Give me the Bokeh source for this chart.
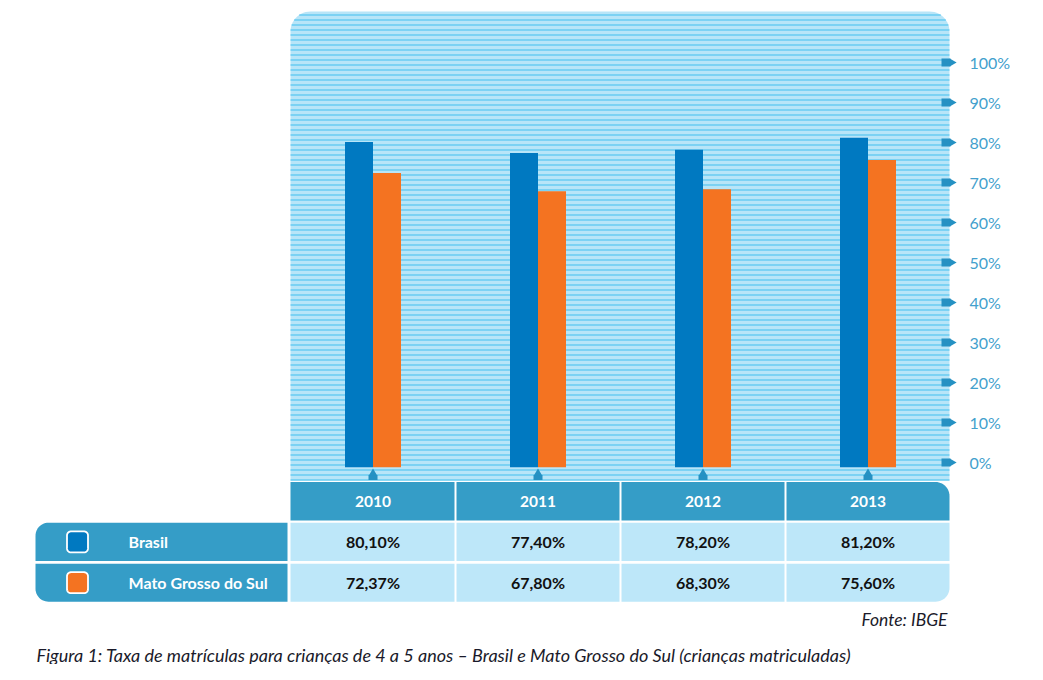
import numpy as np
from bokeh.plotting import figure
from bokeh.models import Range1d, ColumnDataSource
from bokeh.transform import dodge
from bokeh.core.properties import value
from bokeh.embed import file_html
from bokeh.resources import INLINE

# ---------------- data ----------------
years = [2010, 2011, 2012, 2013]
brasil = [80.10, 77.40, 78.20, 81.20]
ms = [72.37, 67.80, 68.30, 75.60]
series_names = ["Brasil", "Mato Grosso do Sul"]
tick_values = [0, 10, 20, 30, 40, 50, 60, 70, 80, 90, 100]
tick_labels = ["0%", "10%", "20%", "30%", "40%", "50%", "60%", "70%", "80%", "90%", "100%"]
source_text = "Fonte: IBGE"
caption = ("Figura 1: Taxa de matrículas para crianças de 4 a 5 anos – "
           "Brasil e Mato Grosso do Sul (crianças matriculadas)")

# ---------------- styles ----------------
BLUE = "#0079c1"
ORANGE = "#f47321"
HEAD = "#359dc7"
CELL = "#bde7f9"
PANEL = "#b8e5f8"
HATCH = "#40bfef"
TICKC = "#2591c3"
LABC = "#42a0cd"
FONT = "Lato"

W, H = 1027, 664
# pixel frame in image coordinates
PX0, PY0 = 1, 1
PX1, PY1 = PX0 + W, PY0 + H
# value scale: 0% at image y=463, 4 px per percent
Y0_IMG, PX_PER_PCT = 463.0, 4.0
y_lo = (Y0_IMG - PY1) / PX_PER_PCT
y_hi = (Y0_IMG - PY0) / PX_PER_PCT
# year scale: 2010 centre at image x=373.5, 165px per year
X_FIRST, PX_PER_YEAR = 373.5, 165.0
x_lo = years[0] - (X_FIRST - PX0) / PX_PER_YEAR
x_hi = years[0] + (PX1 - X_FIRST) / PX_PER_YEAR

p = figure(width=W, height=H, output_backend="svg", toolbar_location=None,
           x_range=Range1d(x_lo, x_hi), y_range=Range1d(y_lo, y_hi),
           x_axis_location=None, y_axis_location=None,
           min_border=0, min_border_left=0, min_border_right=0,
           min_border_top=0, min_border_bottom=0,
           outline_line_color=None, background_fill_color="white",
           border_fill_color="white")
p.xgrid.visible = False
p.ygrid.visible = False
p.extra_x_ranges = {"px": Range1d(PX0, PX1)}
p.extra_y_ranges = {"py": Range1d(PY1, PY0)}


def rrect(x0, x1, y0, y1, r=(0, 0, 0, 0), n=14):
    tl, tr, br, bl = r
    xs, ys = [], []
    corners = [(x0 + tl, y0 + tl, tl, 180), (x1 - tr, y0 + tr, tr, 270),
               (x1 - br, y1 - br, br, 0), (x0 + bl, y1 - bl, bl, 90)]
    for cx, cy, rr, a0 in corners:
        a = np.radians(np.linspace(a0, a0 + 90, n))
        xs += list(cx + rr * np.cos(a))
        ys += list(cy + rr * np.sin(a))
    return xs, ys


def shapes(lst, fill, line=None, lw=0):
    xs = [s[0] for s in lst]
    ys = [s[1] for s in lst]
    p.patches(xs, ys, fill_color=fill, line_color=line, line_width=lw,
              x_range_name="px", y_range_name="py")


# ---- hatched panel ----
PL, PR, PT, PB, PRAD = 291, 950, 12, 481, 20
shapes([rrect(PL, PR, PT, PB, (PRAD, PRAD, 0, 0))], PANEL)
hy = np.arange(15.5, PB, 5.0)
ins = np.where(hy < PT + PRAD,
               PRAD - np.sqrt(np.clip(PRAD ** 2 - (PT + PRAD - hy) ** 2, 0, None)), 0)
p.segment(x0=PL + ins, x1=PR - ins, y0=hy, y1=hy, line_color=HATCH, line_width=1,
          x_range_name="px", y_range_name="py")

# ---- bars ----
src = ColumnDataSource(dict(year=years, brasil=brasil, ms=ms))
bw = 28 / PX_PER_YEAR
p.vbar(x=dodge("year", -bw / 2, range=p.x_range), top="brasil", bottom=-1.2, width=bw,
       source=src, fill_color=BLUE, line_color=None)
p.vbar(x=dodge("year", bw / 2, range=p.x_range), top="ms", bottom=-1.2, width=bw,
       source=src, fill_color=ORANGE, line_color=None)

# ---- right tick arrows and labels ----
p.rect(x=[946.5] * len(tick_values), y=tick_values, width=9, height=8,
       width_units="screen", height_units="screen",
       fill_color=TICKC, line_color=None, x_range_name="px")
p.scatter(x=[952.5] * len(tick_values), y=tick_values, marker="triangle", size=8,
          angle=-np.pi / 2, fill_color=TICKC, line_color=None, x_range_name="px")
p.text(x=[970] * len(tick_values), y=tick_values, text=tick_labels,
       text_font=value(FONT), text_font_size="16px", text_color=LABC,
       text_align="left", text_baseline="middle", x_range_name="px")

# ---- bottom arrows under groups ----
p.rect(x=years, y=[478] * 4, width=9, height=5, width_units="screen",
       height_units="screen", fill_color=TICKC, line_color=None, y_range_name="py")
p.scatter(x=years, y=[473.5] * 4, marker="triangle", size=8,
          fill_color=TICKC, line_color=None, y_range_name="py")

# ---- table ----
cols = [(291 + 165 * i + (1 if i else 0), 291 + 165 * (i + 1) - 1) for i in range(4)]
HT, HB = 482.5, 521
R1T, R1B = 523.2, 561.6
R2T, R2B = 564.2, 602.2
heads = []
row1 = []
row2 = []
for i, (a, b) in enumerate(cols):
    last = i == len(cols) - 1
    heads.append(rrect(a, b, HT, HB, (0, 14 if last else 0, 0, 0)))
    row1.append(rrect(a, b, R1T, R1B))
    row2.append(rrect(a, b, R2T, R2B, (0, 0, 14 if last else 0, 0)))
shapes(heads, HEAD)
shapes(row1 + row2, CELL)

# legend rows
shapes([rrect(36, 288, R1T, R1B, (13, 0, 0, 0)), rrect(36, 288, R2T, R2B, (0, 0, 0, 13))], HEAD)
# legend squares
r1c = (R1T + R1B) / 2
r2c = (R2T + R2B) / 2
sq1 = rrect(67.5, 88.5, r1c - 10.5, r1c + 10.5, (4, 4, 4, 4))
sq2 = rrect(67.5, 88.5, r2c - 10.5, r2c + 10.5, (4, 4, 4, 4))
p.patches([sq1[0]], [sq1[1]], fill_color=BLUE, line_color="white", line_width=1.8,
          x_range_name="px", y_range_name="py")
p.patches([sq2[0]], [sq2[1]], fill_color=ORANGE, line_color="white", line_width=1.8,
          x_range_name="px", y_range_name="py")
p.text(x=[129, 129], y=[r1c, r2c], text=series_names, text_font=value(FONT),
       text_font_style="bold", text_font_size="16px", text_color="white",
       text_align="left", text_baseline="middle", x_range_name="px", y_range_name="py")

# header years and values (x via year scale)
fmt = lambda v: f"{v:.2f}".replace(".", ",") + "%"
p.text(x=years, y=[(HT + HB) / 2] * 4, text=[str(y) for y in years], text_font=value(FONT),
       text_font_style="bold", text_font_size="15.5px", text_color="white",
       text_align="center", text_baseline="middle", y_range_name="py")
p.text(x=years, y=[r1c] * 4, text=[fmt(v) for v in brasil], text_font=value(FONT),
       text_font_style="bold", text_font_size="16px", text_color="#111111",
       text_align="center", text_baseline="middle", y_range_name="py")
p.text(x=years, y=[r2c] * 4, text=[fmt(v) for v in ms], text_font=value(FONT),
       text_font_style="bold", text_font_size="16px", text_color="#111111",
       text_align="center", text_baseline="middle", y_range_name="py")

# ---- source and caption ----
p.text(x=[948], y=[620], text=[source_text], text_font=value(FONT),
       text_font_style="italic", text_font_size="17.5px", text_color="#1a1a2a",
       text_align="right", text_baseline="middle", x_range_name="px", y_range_name="py")
p.text(x=[37], y=[655], text=[caption], text_font=value(FONT),
       text_font_style="italic", text_font_size="18px", text_color="#1a1a2a",
       text_align="left", text_baseline="middle", x_range_name="px", y_range_name="py")

open("out.html", "w").write(file_html(p, INLINE))
